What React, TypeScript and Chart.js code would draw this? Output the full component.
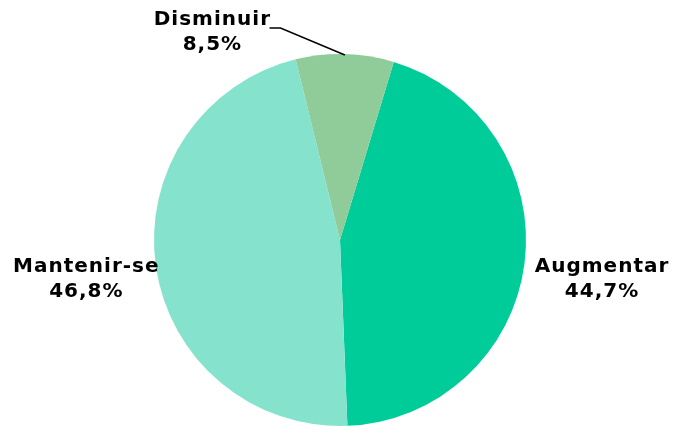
import React, { useEffect, useRef } from "react";
import { Chart, registerables } from "chart.js";

Chart.register(...registerables);

const categories = ["Augmentar", "Mantenir-se", "Disminuir"];
const values = [44.7, 46.8, 8.5];
const valueLabels = ["44,7%", "46,8%", "8,5%"];
const colors = ["#00CC99", "#85E3CD", "#8FCC99"];

// label block offsets (centre of text block relative to arc edge at mid angle)
const labelOffsets = [
  { dx: 77, dy: 16, leader: false },
  { dx: -70, dy: 13, leader: false },
  { dx: -133, dy: -22, leader: true },
];

const labelPlugin = {
  id: "pieLabels",
  afterDraw(chart: any) {
    const ctx = chart.ctx;
    const meta = chart.getDatasetMeta(0);
    ctx.save();
    ctx.font = "bold 20px 'DejaVu Sans'";
    (ctx as any).letterSpacing = "1px";
    ctx.fillStyle = "#000";
    ctx.textAlign = "center";
    ctx.textBaseline = "middle";
    meta.data.forEach((arc: any, i: number) => {
      const { x, y, startAngle, endAngle, outerRadius } = arc.getProps(
        ["x", "y", "startAngle", "endAngle", "outerRadius"],
        true
      );
      const mid = (startAngle + endAngle) / 2;
      const ax = x + Math.cos(mid) * outerRadius;
      const ay = y + Math.sin(mid) * outerRadius;
      const off = labelOffsets[i];
      const cx = ax + off.dx;
      const cy = ay + off.dy;
      const l1 = categories[i];
      const l2 = valueLabels[i];
      ctx.fillText(l1, cx + 0.5, cy - 12.5);
      ctx.fillText(l2, cx + 0.5, cy + 12.5);
      if (off.leader) {
        const w = ctx.measureText(l1).width;
        const ex = cx + w / 2 - 1;
        const ey = cy - 4;
        ctx.beginPath();
        ctx.strokeStyle = "#000";
        ctx.lineWidth = 1.5;
        ctx.moveTo(ex, ey);
        ctx.lineTo(ex + 11, ey);
        ctx.lineTo(ax, ay + 1);
        ctx.stroke();
      }
    });
    ctx.restore();
  },
};

export default function App() {
  const ref = useRef<HTMLCanvasElement>(null);
  useEffect(() => {
    if (!ref.current) return;
    const chart = new Chart(ref.current, {
      type: "pie",
      data: {
        labels: categories,
        datasets: [
          {
            data: values,
            backgroundColor: colors,
            borderWidth: 0,
          },
        ],
      },
      options: {
        responsive: false,
        animation: false,
        rotation: 16.8,
        layout: { padding: { left: 154, right: 149, top: 54, bottom: 14 } },
        plugins: {
          legend: { display: false },
          tooltip: { enabled: false },
        },
      },
      plugins: [labelPlugin],
    });
    return () => chart.destroy();
  }, []);
  return (
    <div
      style={{
        position: "fixed",
        left: 0,
        top: 0,
        width: 675,
        height: 427,
        overflow: "hidden",
        background: "#fff",
      }}
    >
      <canvas ref={ref} width={675} height={440} style={{ display: "block" }} />
    </div>
  );
}
